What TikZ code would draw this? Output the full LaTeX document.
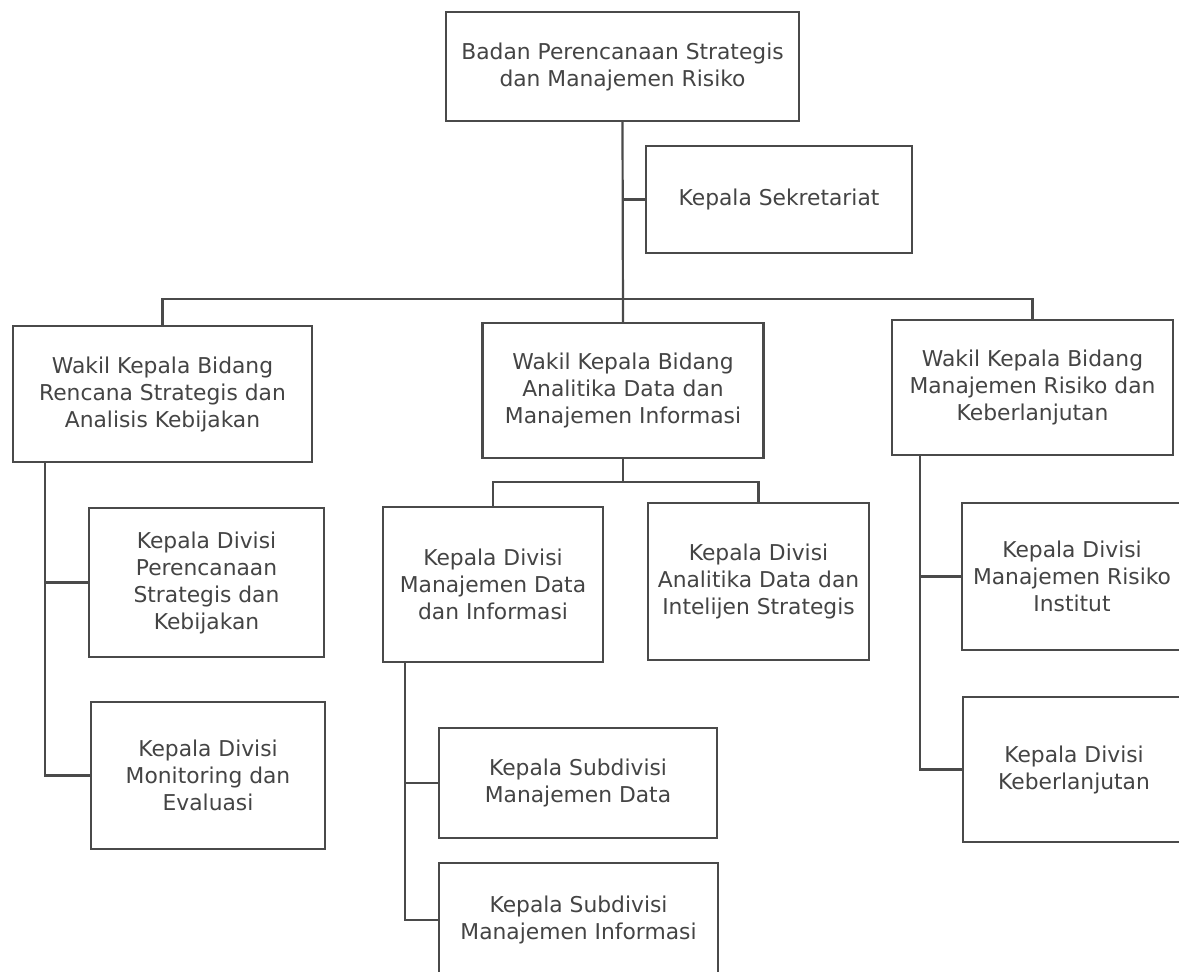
\documentclass[tikz,border=0pt]{standalone}
\usepackage{fontspec}
\setmainfont{DejaVu Sans}
\definecolor{linegray}{HTML}{4A4A4A}
\definecolor{textgray}{HTML}{444444}
\begin{document}
\begin{tikzpicture}[x=1pt,y=-1pt,
  box/.style={draw=linegray, line width=2.2pt, fill=white, align=center,
    inner sep=0pt, text=textgray, font=\fontsize{21.8}{27}\selectfont},
  link/.style={draw=linegray, line width=2.2pt},
]
\path[use as bounding box] (0,0) rectangle (1179,972);
\clip (0,0) rectangle (1179,972);
\fill[white] (0,0) rectangle (1179,972);

% head and secretariat
\node[box, minimum width=353pt, minimum height=109pt] (top) at (622.5,66.5)
  {Badan Perencanaan Strategis\\dan Manajemen Risiko};
\node[box, minimum width=266pt, minimum height=107pt] (sek) at (779,199.5)
  {Kepala Sekretariat};

% deputies
\node[box, minimum width=299pt, minimum height=136pt] (L) at (162.5,394)
  {Wakil Kepala Bidang\\Rencana Strategis dan\\Analisis Kebijakan};
\node[box, minimum width=281pt, minimum height=135pt] (M) at (623,390.5)
  {Wakil Kepala Bidang\\Analitika Data dan\\Manajemen Informasi};
\node[box, minimum width=281pt, minimum height=135pt] (R) at (1032.5,387.5)
  {Wakil Kepala Bidang\\Manajemen Risiko dan\\Keberlanjutan};

% divisions
\node[box, minimum width=235pt, minimum height=149pt] (L1) at (206.5,582.5)
  {Kepala Divisi\\Perencanaan\\Strategis dan\\Kebijakan};
\node[box, minimum width=234pt, minimum height=147pt] (L2) at (208,775.5)
  {Kepala Divisi\\Monitoring dan\\Evaluasi};
\node[box, minimum width=220pt, minimum height=155pt] (M1) at (493,584.5)
  {Kepala Divisi\\Manajemen Data\\dan Informasi};
\node[box, minimum width=221pt, minimum height=157pt] (M2) at (758.5,581.5)
  {Kepala Divisi\\Analitika Data dan\\Intelijen Strategis};
\node[box, minimum width=220pt, minimum height=147pt] (R1) at (1072,576.5)
  {Kepala Divisi\\Manajemen Risiko\\Institut};
\node[box, minimum width=222pt, minimum height=145pt] (R2) at (1074,769.5)
  {Kepala Divisi\\Keberlanjutan};

% subdivisions
\node[box, minimum width=278pt, minimum height=110pt] (M1a) at (578,783)
  {Kepala Subdivisi\\Manajemen Data};
\node[box, minimum width=279pt, minimum height=114pt] (M1b) at (578.5,920)
  {Kepala Subdivisi\\Manajemen Informasi};

% junction points
\coordinate (bus) at (623,299);
\coordinate (Mbus) at (623,482);
\coordinate (Lspine) at (45,462);
\coordinate (M1spine) at (405,662);
\coordinate (Rspine) at (920,455);

% connectors
\draw[link] (top.south) -- (M.north);
\draw[link] (sek.west) -- (sek.west -| top.south);
\draw[link] (L.north) |- (bus) -| (R.north);

\draw[link] (Lspine) |- (L2.west);
\draw[link] (L1.west) -- (L1.west -| Lspine);

\draw[link] (M.south) -- (Mbus);
\draw[link] (M1.north) |- (Mbus) -| (M2.north);

\draw[link] (M1spine) |- (M1b.west);
\draw[link] (M1a.west) -- (M1a.west -| M1spine);

\draw[link] (Rspine) |- (R2.west);
\draw[link] (R1.west) -- (R1.west -| Rspine);
\end{tikzpicture}
\end{document}
